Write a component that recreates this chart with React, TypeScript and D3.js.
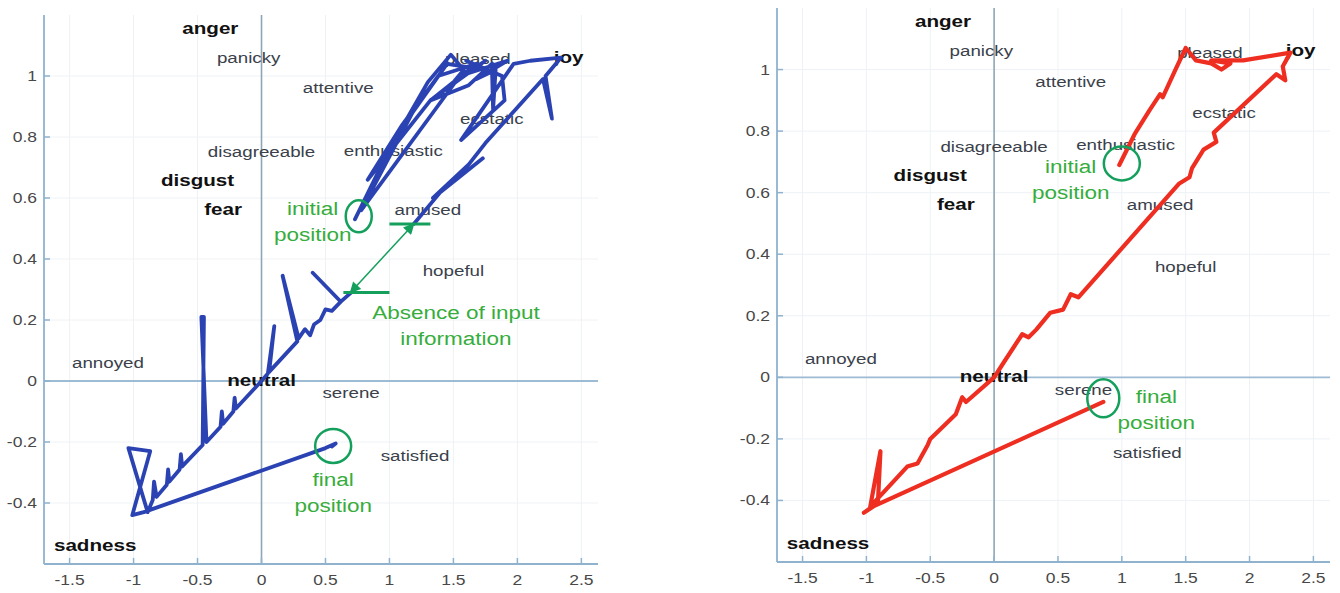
import React from 'react';
import * as d3 from 'd3';

// axis ticks
const xTicks = [-1.5, -1, -0.5, 0, 0.5, 1, 1.5, 2, 2.5];
const xTickLabels = ['-1.5', '-1', '-0.5', '0', '0.5', '1', '1.5', '2', '2.5'];
const yTicks = [-0.4, -0.2, 0, 0.2, 0.4, 0.6, 0.8, 1];
const yTickLabels = ['-0.4', '-0.2', '0', '0.2', '0.4', '0.6', '0.8', '1'];

// emotion words placed on the plane
const emotionNames = ['anger', 'panicky', 'attentive', 'pleased', 'joy', 'ecstatic', 'enthusiastic',
  'disagreeable', 'disgust', 'fear', 'amused', 'hopeful', 'annoyed', 'neutral', 'serene', 'satisfied', 'sadness'];
const emotionX = [-0.40, -0.10, 0.60, 1.69, 2.40, 1.80, 1.03, 0.00, -0.50, -0.30, 1.30, 1.50, -1.20, 0.00, 0.70, 1.20, -1.30];
const emotionY = [1.155, 1.06, 0.96, 1.055, 1.06, 0.86, 0.755, 0.75, 0.655, 0.56, 0.56, 0.36, 0.06, 0.00, -0.04, -0.245, -0.54];
const basicEmotions = ['anger', 'joy', 'disgust', 'fear', 'neutral', 'sadness'];

// left panel: blue trajectory, before and after the gap without input
const blueBeforeGap: [number, number][] = [
  [0.73, 0.53], [1.00, 0.76], [1.30, 0.98], [1.48, 1.07], [1.58, 1.02], [1.50, 0.98], [1.75, 1.05],
  [1.32, 0.92], [0.83, 0.66], [1.10, 0.84], [1.38, 1.00], [1.68, 1.04], [1.32, 0.92], [1.62, 0.97],
  [1.80, 1.04], [1.81, 0.89], [1.83, 1.02], [1.68, 0.99], [1.92, 1.05], [1.55, 1.00], [0.78, 0.56],
  [1.18, 0.88], [1.45, 1.04], [1.75, 1.02], [1.60, 1.05], [1.88, 1.00], [1.90, 0.92], [1.56, 0.79],
  [1.97, 1.04], [2.10, 1.05], [2.34, 1.06], [2.22, 1.00], [2.27, 0.86], [2.20, 0.99], [1.75, 0.78],
  [1.62, 0.71], [1.34, 0.60], [1.73, 0.73], [1.40, 0.62], [1.19, 0.515],
];
const blueAfterGap: [number, number][] = [
  [0.70, 0.29], [0.62, 0.26], [0.40, 0.355], [0.62, 0.26], [0.55, 0.23], [0.50, 0.235], [0.46, 0.20],
  [0.41, 0.185], [0.38, 0.15], [0.34, 0.17], [0.29, 0.14], [0.165, 0.345], [0.28, 0.13], [0.06, 0.03],
  [0.10, 0.18], [0.05, 0.025], [0.00, 0.00], [-0.20, -0.09], [-0.21, -0.055], [-0.22, -0.10],
  [-0.30, -0.14], [-0.31, -0.10], [-0.32, -0.15], [-0.43, -0.20], [-0.47, 0.21], [-0.45, 0.21],
  [-0.46, -0.21], [-0.62, -0.28], [-0.63, -0.24], [-0.64, -0.29], [-0.72, -0.33], [-0.73, -0.29],
  [-0.74, -0.34], [-0.82, -0.38], [-0.84, -0.33], [-0.85, -0.39], [-0.89, -0.43], [-1.04, -0.22],
  [-0.87, -0.23], [-1.01, -0.44], [-0.92, -0.43], [0.50, -0.22], [0.58, -0.205], [0.55, -0.215],
];

// right panel: red trajectory
const redPath: [number, number][] = [
  [0.98, 0.69], [1.10, 0.79], [1.22, 0.87], [1.30, 0.92], [1.32, 0.91], [1.42, 1.00], [1.50, 1.07],
  [1.58, 1.03], [1.70, 1.02], [1.78, 1.00], [1.85, 1.02], [1.70, 1.03], [1.95, 1.03], [2.32, 1.055],
  [2.26, 1.01], [2.28, 0.965], [2.21, 0.985], [1.72, 0.795], [1.74, 0.765], [1.64, 0.74],
  [1.55, 0.68], [1.53, 0.65], [1.45, 0.63], [0.66, 0.26], [0.60, 0.27], [0.54, 0.22], [0.44, 0.21],
  [0.33, 0.155], [0.27, 0.13], [0.22, 0.14], [0.07, 0.045], [0.00, 0.00], [-0.22, -0.08],
  [-0.25, -0.065], [-0.30, -0.12], [-0.50, -0.20], [-0.52, -0.22], [-0.60, -0.28], [-0.68, -0.29],
  [-0.97, -0.42], [-0.89, -0.24], [-0.91, -0.41], [-1.02, -0.44], [-0.95, -0.42], [0.855, -0.08],
];

// annotations (data coords)
const gapTop: [number, number] = [1.19, 0.515];
const gapBottom: [number, number] = [0.695, 0.29];
const gapTopBar: [number, number, number] = [1.0, 1.32, 0.515];
const gapBottomBar: [number, number, number] = [0.64, 1.0, 0.29];

const leftCircles = [{ x: 0.76, y: 0.54, rx: 13, ry: 16 }, { x: 0.56, y: -0.213, rx: 18, ry: 17 }];
const rightCircles = [{ x: 1.0, y: 0.695, rx: 18, ry: 17 }, { x: 0.855, y: -0.068, rx: 16, ry: 19 }];

const leftNotes = [
  { x: 0.40, y: 0.565, lines: ['initial', 'position'] },
  { x: 1.52, y: 0.223, lines: ['Absence of input', 'information'] },
  { x: 0.56, y: -0.325, lines: ['final', 'position'] },
];
const rightNotes = [
  { x: 0.60, y: 0.685, lines: ['initial', 'position'] },
  { x: 1.27, y: -0.065, lines: ['final', 'position'] },
];

const xDomain = [-1.7, 2.63];
const yDomain = [-0.6, 1.2];

const FONT = '"Liberation Sans", Arial, sans-serif';
const STRETCH = 1.25;
const GREEN_TEXT = '#36ad3c';
const GREEN_LINE = '#14a05c';

function SText({ x, y, size, weight, fill, children }: any) {
  return (
    <text transform={`translate(${x},${y}) scale(${STRETCH},1)`} textAnchor="middle"
      fontFamily={FONT} fontSize={size} fontWeight={weight || 'normal'} fill={fill}>
      {children}
    </text>
  );
}

function Panel({ left, right, top, bottom, trace, color, width, circles, notes, gap }: any) {
  const x = d3.scaleLinear().domain(xDomain).range([left, right]);
  const y = d3.scaleLinear().domain(yDomain).range([bottom, top]);
  const line = d3.line<[number, number]>().x(d => x(d[0])).y(d => y(d[1]));

  return (
    <g>
      {/* faint grid */}
      {xTicks.map(t => (
        <line key={'gx' + t} x1={x(t)} x2={x(t)} y1={top} y2={bottom} stroke="#eef2f6" strokeWidth={1} />
      ))}
      {yTicks.map(t => (
        <line key={'gy' + t} x1={left} x2={right} y1={y(t)} y2={y(t)} stroke="#eef2f6" strokeWidth={1} />
      ))}
      {/* zero lines */}
      <line x1={x(0)} x2={x(0)} y1={top} y2={bottom} stroke="#8ea6b8" strokeWidth={1.6} />
      <line x1={left} x2={right} y1={y(0)} y2={y(0)} stroke="#9dbbd2" strokeWidth={1.8} />
      {/* axes */}
      <line x1={left} x2={left} y1={top} y2={bottom} stroke="#8fb2ce" strokeWidth={1.8} />
      <line x1={left} x2={right} y1={bottom} y2={bottom} stroke="#8fb2ce" strokeWidth={1.8} />
      {xTicks.map((t, i) => (
        <g key={'xt' + t}>
          <line x1={x(t)} x2={x(t)} y1={bottom} y2={bottom - 6} stroke="#8fb2ce" strokeWidth={1.5} />
          <SText x={x(t)} y={bottom + 21} size={14} fill="#484848">{xTickLabels[i]}</SText>
        </g>
      ))}
      {yTicks.map((t, i) => (
        <g key={'yt' + t}>
          <line x1={left} x2={left + 6} y1={y(t)} y2={y(t)} stroke="#8fb2ce" strokeWidth={1.5} />
          <text transform={`translate(${left - 7},${y(t) + 5}) scale(${STRETCH},1)`} textAnchor="end"
            fontFamily={FONT} fontSize={14} fill="#484848">{yTickLabels[i]}</text>
        </g>
      ))}
      {/* emotion words */}
      {emotionNames.map((n, i) => {
        const bold = basicEmotions.includes(n);
        return (
          <SText key={n} x={x(emotionX[i])} y={y(emotionY[i]) + 5} size={bold ? 16.5 : 15}
            weight={bold ? 'bold' : 'normal'} fill={bold ? '#111' : '#3a414a'}>{n}</SText>
        );
      })}
      {/* trajectories */}
      <g filter="url(#soft)">
        {trace.map((seg: [number, number][], i: number) => (
          <path key={'tr' + i} d={line(seg) || ''} fill="none" stroke={color} strokeWidth={width}
            strokeLinejoin="round" strokeLinecap="round" />
        ))}
      </g>
      {/* gap annotation */}
      {gap && (
        <g>
          <line x1={x(gapTopBar[0])} x2={x(gapTopBar[1])} y1={y(gapTopBar[2])} y2={y(gapTopBar[2])}
            stroke={GREEN_LINE} strokeWidth={3} />
          <line x1={x(gapBottomBar[0])} x2={x(gapBottomBar[1])} y1={y(gapBottomBar[2])} y2={y(gapBottomBar[2])}
            stroke={GREEN_LINE} strokeWidth={3} />
          <line x1={x(gapTop[0])} y1={y(gapTop[1])} x2={x(gapBottom[0])} y2={y(gapBottom[1])}
            stroke={GREEN_LINE} strokeWidth={1.5} markerStart="url(#arrowG)" markerEnd="url(#arrowG)" />
        </g>
      )}
      {circles.map((c: any, i: number) => (
        <ellipse key={'c' + i} cx={x(c.x)} cy={y(c.y)} rx={c.rx} ry={c.ry} fill="none"
          stroke={GREEN_LINE} strokeWidth={2.5} />
      ))}
      {notes.map((n: any, i: number) => (
        <g key={'n' + i}>
          {n.lines.map((l: string, j: number) => (
            <SText key={l} x={x(n.x)} y={y(n.y) + 6 + j * 26} size={18} fill={GREEN_TEXT}>{l}</SText>
          ))}
        </g>
      ))}
    </g>
  );
}

export default function App() {
  return (
    <div style={{ position: 'absolute', left: 0, top: 0 }}>
      <svg width={1340} height={593} style={{ display: 'block', background: '#fff' }}>
        <defs>
          <marker id="arrowG" viewBox="0 0 10 10" refX="9" refY="5" markerWidth="13" markerHeight="11"
            orient="auto-start-reverse" markerUnits="userSpaceOnUse">
            <path d="M0,0 L10,5 L0,10 z" fill={GREEN_LINE} />
          </marker>
          <filter id="soft" x="-5%" y="-5%" width="110%" height="110%">
            <feGaussianBlur stdDeviation="0.5" />
          </filter>
        </defs>
        <Panel left={44} right={598} top={15} bottom={564} trace={[blueBeforeGap, blueAfterGap]}
          color="#2c43b2" width={3.8} circles={leftCircles} notes={leftNotes} gap={true} />
        <Panel left={777} right={1330} top={8} bottom={562} trace={[redPath]}
          color="#ef2d20" width={4.2} circles={rightCircles} notes={rightNotes} gap={false} />
      </svg>
    </div>
  );
}
